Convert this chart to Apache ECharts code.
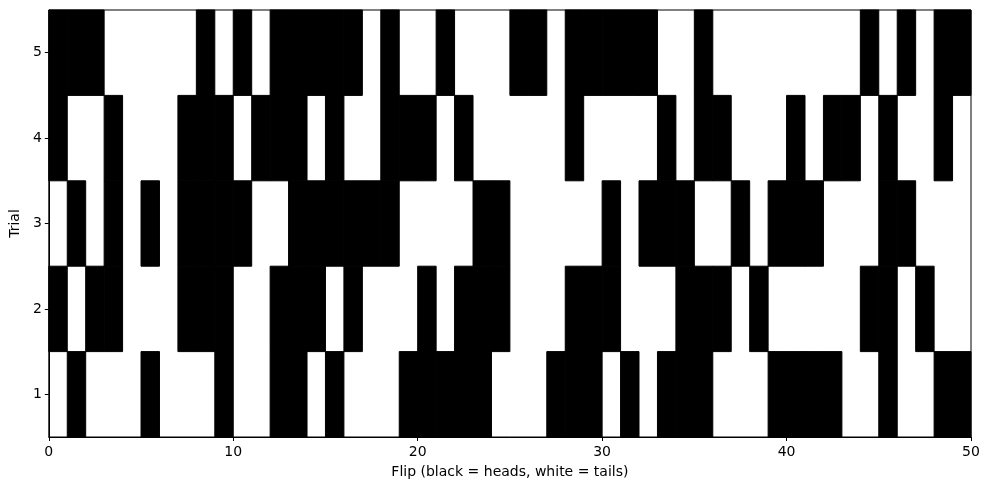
<!DOCTYPE html>
<html>
<head>
<meta charset="utf-8">
<script src="https://cdn.jsdelivr.net/npm/echarts@6/dist/echarts.min.js"></script>
<style>
  html, body { margin: 0; padding: 0; background: #fff; }
  #chart { width: 989px; height: 490px; }
</style>
</head>
<body>
<div id="chart"></div>
<script>
// 1 = heads (black), 0 = tails (white), flips 0..49
const trial1 = [0,1,0,0,0,1,0,0,0,1, 0,0,1,1,0,1,0,0,0,1, 1,1,1,1,0,0,0,1,1,1, 0,1,0,1,1,1,0,0,0,1, 1,1,1,0,0,1,0,0,1,1]
const trial2 = [1,0,1,1,0,0,0,1,1,1, 0,0,1,1,1,0,1,0,0,0, 1,0,1,1,1,0,0,0,1,1, 1,0,0,0,1,1,1,0,1,0, 0,0,0,0,1,1,0,1,0,0]
const trial3 = [0,1,0,1,0,1,0,1,1,1, 1,0,0,1,1,1,1,1,1,0, 0,0,0,1,1,0,0,0,0,0, 1,0,1,1,1,0,0,1,0,1, 1,1,0,0,0,1,1,0,0,0]
const trial4 = [1,0,0,1,0,0,0,1,1,1, 0,1,1,1,0,1,0,0,1,1, 1,0,1,0,0,0,0,0,1,0, 0,0,0,1,0,1,1,0,0,0, 1,0,1,1,0,1,0,0,1,0]
const trial5 = [1,1,1,0,0,0,0,0,1,0, 1,0,1,1,1,1,1,0,1,0, 0,1,0,0,0,1,1,0,1,1, 1,1,1,0,0,1,0,0,0,0, 0,0,0,0,1,0,1,0,1,1]

const trialLabels = ['1', '2', '3', '4', '5']
const trials = [trial1, trial2, trial3, trial4, trial5]

const cells = []
trials.forEach((row, t) => {
  row.forEach((v, i) => {
    cells.push([i, t, v])
  })
})

const font = 'DejaVu Sans'
const chart = echarts.init(document.getElementById('chart'))

const option = {
  animation: false,
  backgroundColor: '#fff',
  grid: {
    left: 48,
    right: 18,
    top: 10,
    bottom: 53,
    show: true,
    borderColor: '#000',
    borderWidth: 1,
    backgroundColor: 'transparent'
  },
  xAxis: {
    type: 'value',
    min: 0,
    max: 50,
    interval: 10,
    name: 'Flip (black = heads, white = tails)',
    nameLocation: 'middle',
    nameGap: 28,
    nameTextStyle: { fontFamily: font, fontSize: 14, color: '#000' },
    axisLine: { show: true, lineStyle: { color: '#000', width: 1 } },
    axisTick: { show: true, length: 4, lineStyle: { color: '#000' } },
    axisLabel: { fontFamily: font, fontSize: 14, color: '#000', margin: 8 },
    splitLine: { show: false }
  },
  yAxis: {
    type: 'category',
    data: trialLabels,
    name: 'Trial',
    nameLocation: 'middle',
    nameGap: 26,
    nameRotate: 90,
    nameTextStyle: { fontFamily: font, fontSize: 14, color: '#000' },
    axisLine: { show: true, lineStyle: { color: '#000', width: 1 } },
    axisTick: { show: true, length: 4, alignWithLabel: true, lineStyle: { color: '#000' } },
    axisLabel: { fontFamily: font, fontSize: 14, color: '#000', margin: 7 },
    splitLine: { show: false }
  },
  series: [
    {
      type: 'custom',
      data: cells,
      encode: { x: 0, y: 1 },
      renderItem: (params, api) => {
        const x0 = api.value(0)
        const t = api.value(1)
        const v = api.value(2)
        if (!v) return null
        const start = api.coord([x0, t])
        const end = api.coord([x0 + 1, t])
        const h = api.size([0, 1])[1]
        return {
          type: 'rect',
          shape: {
            x: start[0],
            y: start[1] - h / 2,
            width: end[0] - start[0],
            height: h
          },
          style: { fill: '#000', stroke: '#000', lineWidth: 1 }
        }
      }
    }
  ]
}

chart.setOption(option)
</script>
</body>
</html>
